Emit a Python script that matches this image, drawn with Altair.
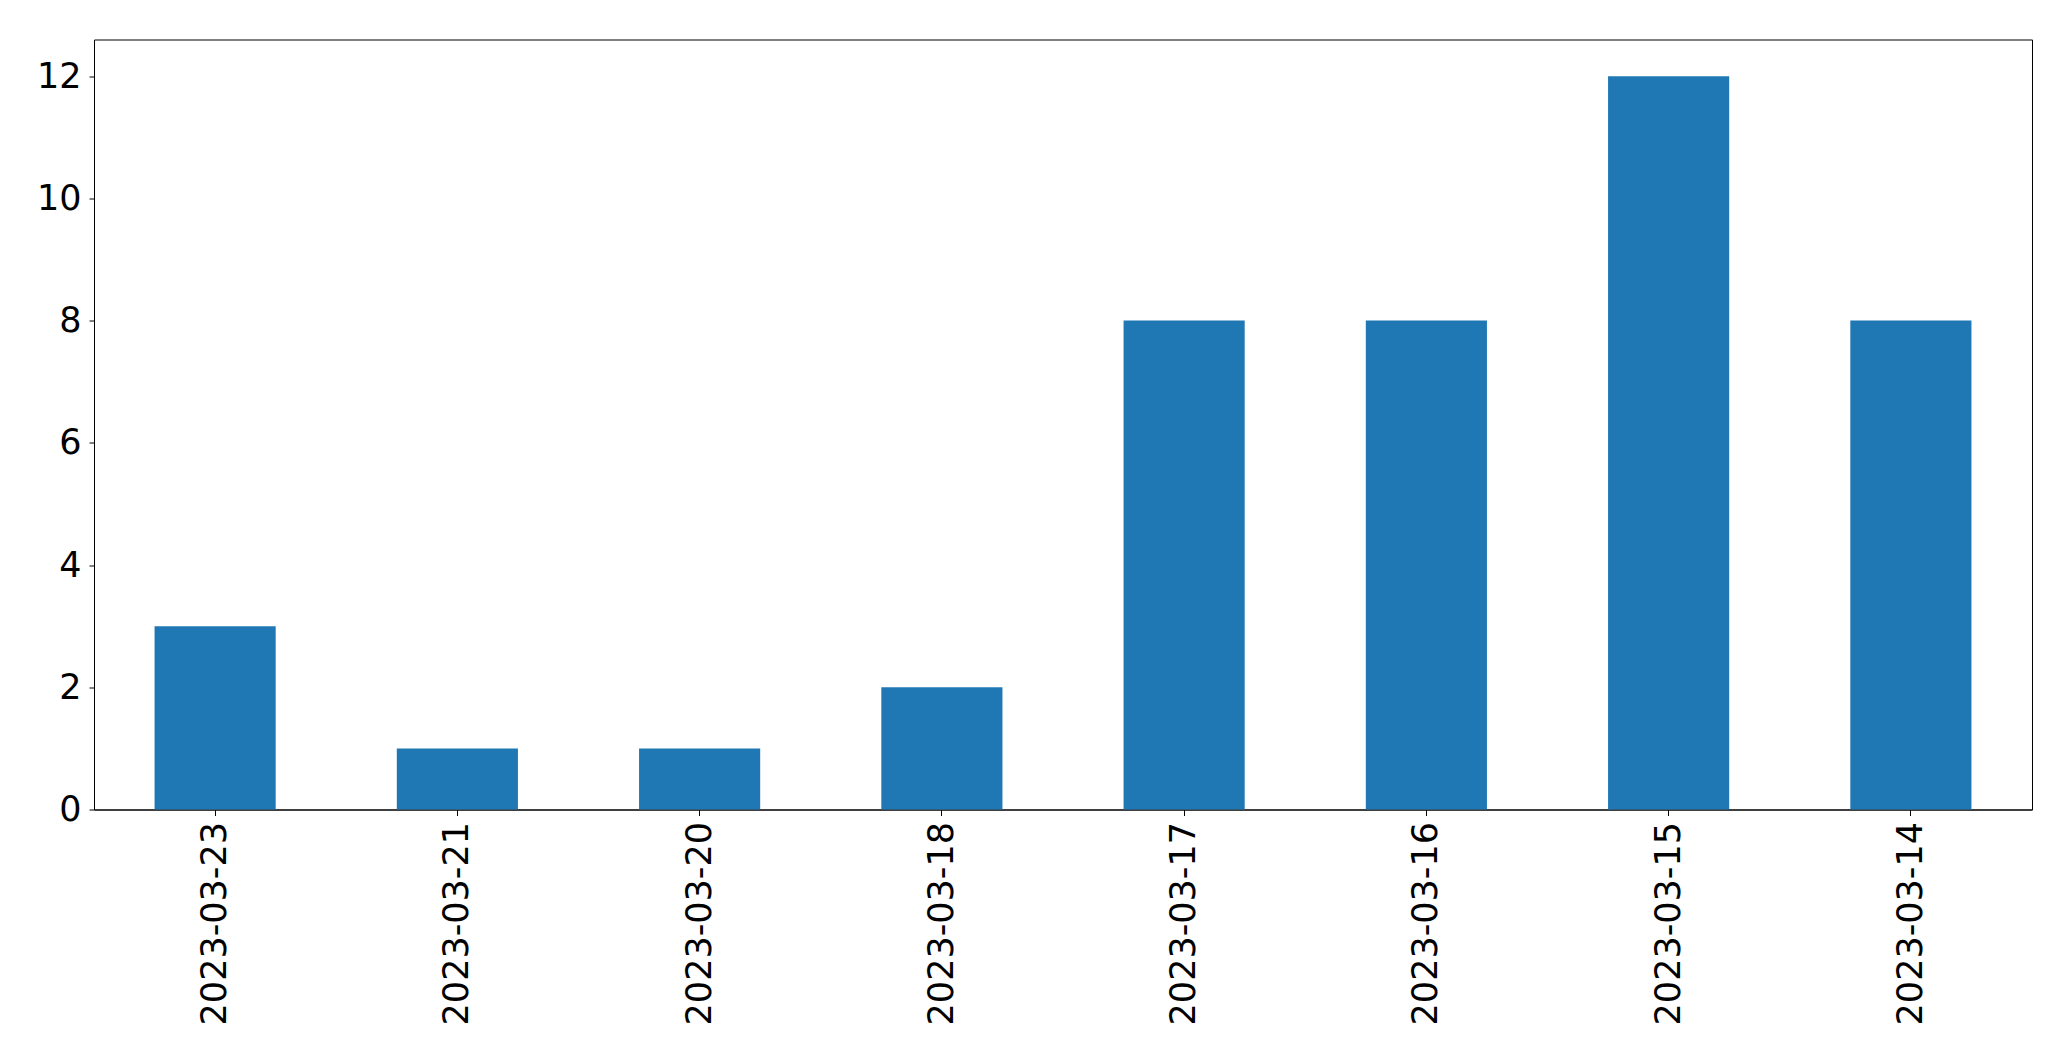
import altair as alt
import pandas as pd

dates = ["2023-03-23", "2023-03-21", "2023-03-20", "2023-03-18",
         "2023-03-17", "2023-03-16", "2023-03-15", "2023-03-14"]
counts = [3, 1, 1, 2, 8, 8, 12, 8]
y_ticks = [0, 2, 4, 6, 8, 10, 12]

df = pd.DataFrame({"date": dates, "count": counts})

chart = alt.Chart(df).mark_bar(color="#1f77b4").encode(
    x=alt.X("date:N", sort=dates,
            scale=alt.Scale(paddingInner=0.5, paddingOuter=0.25),
            axis=alt.Axis(title=None, labelAngle=-90, labelFontSize=35,
                          labelFont="DejaVu Sans", labelColor="black",
                          labelLimit=0,
                          tickColor="black", tickSize=6, labelPadding=6,
                          domainColor="black", grid=False)),
    y=alt.Y("count:Q", scale=alt.Scale(domain=[0, 12.6], nice=False, zero=True),
            axis=alt.Axis(title=None, values=y_ticks, labelFontSize=35,
                          labelFont="DejaVu Sans", labelColor="black",
                          tickColor="black", tickSize=5, labelPadding=8,
                          domainColor="black", grid=False)),
).properties(
    width=1938, height=770,
    autosize=alt.AutoSizeParams(type="none"),
    padding={"left": 86, "top": 31.5, "right": 30, "bottom": 230},
).configure(
    background="white"
).configure_view(
    stroke="black", strokeWidth=1
)

chart.save("out.html", embed_options={"renderer": "svg", "actions": False})
